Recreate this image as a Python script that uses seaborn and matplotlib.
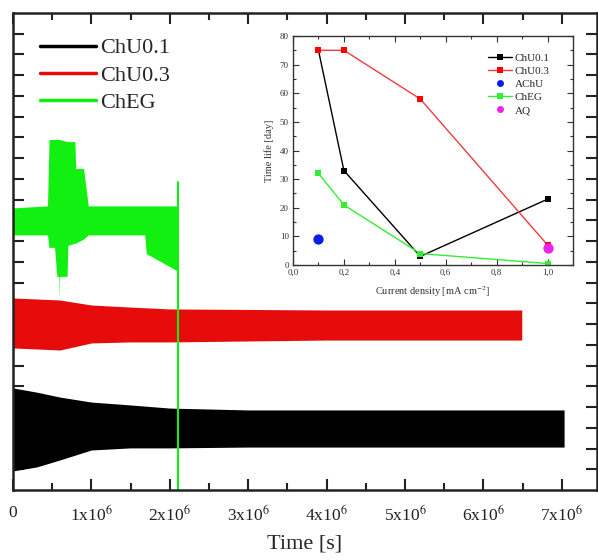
import numpy as np
import pandas as pd
import matplotlib
matplotlib.use("Agg")
import matplotlib.pyplot as plt
from matplotlib.ticker import MultipleLocator, FixedLocator, FuncFormatter
from matplotlib.lines import Line2D
import seaborn as sns

# main chart: envelopes of the oscillating signals (x in 1e6 s, y arbitrary units)
chu01_x = [0.0, 0.3, 0.6, 1.0, 1.5, 2.0, 3.0, 7.03]
chu01_top = [4.92, 4.72, 4.48, 4.24, 4.10, 3.95, 3.86, 3.86]
chu01_bot = [0.92, 1.11, 1.45, 1.93, 2.03, 2.03, 2.07, 2.07]

chu03_x = [0.0, 0.6, 1.0, 1.5, 2.0, 4.0, 6.49]
chu03_top = [9.26, 9.16, 8.92, 8.82, 8.73, 8.68, 8.68]
chu03_bot = [6.85, 6.75, 7.09, 7.14, 7.14, 7.23, 7.23]

cheg_x = [0.0, 0.44, 0.46, 0.53, 0.56, 0.585, 0.59, 0.595, 0.69, 0.70,
          0.79, 0.80, 0.90, 0.96, 1.68, 1.70, 2.08, 2.10]
cheg_top = [13.6, 13.7, 16.9, 16.9, 16.9, 16.9, 16.9, 16.9, 16.8, 16.8,
            16.8, 15.5, 15.5, 13.7, 13.7, 13.7, 13.7, 13.7]
cheg_bot = [12.3, 12.3, 11.7, 11.7, 10.3, 10.3, 9.2, 10.3, 10.3, 11.8,
            11.9, 11.9, 12.1, 12.3, 12.3, 11.4, 10.6, 10.6]
cheg_end_x = [2.10, 2.10]
cheg_end_y = [14.85, 0.0]

# inset: lifetime vs current density
density = [0.1, 0.2, 0.5, 1.0]
life_chu01 = [75, 33, 3, 23]
life_chu03 = [75, 75, 58, 7]
life_cheg = [32, 21, 4, 0.5]
achu_x, achu_y = [0.1], [9]
aq_x, aq_y = [1.0], [6]

BLACK = "#000000"
RED = "#e60c0c"
GREEN = "#12f012"
BLUE = "#0a1ee6"
MAGENTA = "#ee22ee"

sns.set_theme(style="ticks")
plt.rcParams["font.family"] = ["Liberation Serif", "DejaVu Serif"]
plt.rcParams["mathtext.fontset"] = "stix"

fig = plt.figure(figsize=(5.98, 5.60), dpi=100)
ax = fig.add_axes([13 / 598, 70 / 560, 584 / 598, 477 / 560])

ax.fill_between(chu01_x, chu01_bot, chu01_top, color=BLACK, lw=0)
ax.fill_between(chu03_x, chu03_bot, chu03_top, color=RED, lw=0)
ax.fill_between(cheg_x, cheg_bot, cheg_top, color=GREEN, lw=0)
ax.plot(cheg_end_x, cheg_end_y, color=GREEN, lw=1.5)

ax.set_xlim(0, 7.45)
ax.set_ylim(0, 23)
ax.xaxis.set_major_locator(MultipleLocator(1))
ax.xaxis.set_minor_locator(MultipleLocator(0.5))
ax.xaxis.set_major_formatter(FuncFormatter(lambda v, p: "0" if v == 0 else r"%dx10$^6$" % round(v)))
ax.yaxis.set_major_locator(FixedLocator(np.arange(1, 23, 2)))
ax.yaxis.set_minor_locator(FixedLocator(np.arange(2, 23, 2)))
ax.set_yticklabels([])
ax.tick_params(which="both", direction="in", top=True, right=True, width=1.5, colors="#222222")
ax.tick_params(which="major", length=8, labelsize=12.5, pad=11)
ax.tick_params(which="minor", length=5)
ax.tick_params(axis="y", which="minor", length=8)
for s in ax.spines.values():
    s.set_linewidth(1.8)
    s.set_color("#222222")
ax.set_xlabel("Time [s]", fontsize=16, labelpad=7)

handles = [Line2D([], [], color=c, lw=2.5) for c in (BLACK, RED, GREEN)]
ax.legend(handles, ["ChU0.1", "ChU0.3", "ChEG"], loc="upper left",
          bbox_to_anchor=(0.012, 0.99), frameon=False, fontsize=16,
          handlelength=2.5, handletextpad=0.2, labelspacing=0.3)

# inset
ax2 = fig.add_axes([293 / 598, (560 - 265) / 560, 280 / 598, 229 / 560])
sns.lineplot(x=density, y=life_chu01, ax=ax2, color=BLACK, lw=1, marker="s",
             markersize=4, markeredgewidth=0, legend=False)
sns.lineplot(x=density, y=life_chu03, ax=ax2, color="#f03c3c", lw=1, marker="s",
             markersize=4, markeredgewidth=0, markerfacecolor="red", legend=False)
sns.scatterplot(x=achu_x, y=achu_y, ax=ax2, color=BLUE, s=55, linewidth=0,
                legend=False, zorder=4)
sns.lineplot(x=density, y=life_cheg, ax=ax2, color="#33ee33", lw=1, marker="s",
             markersize=4, markeredgewidth=0, legend=False)
sns.scatterplot(x=aq_x, y=aq_y, ax=ax2, color=MAGENTA, s=55, linewidth=0,
                legend=False, zorder=4)

ax2.set_xlim(0, 1.1)
ax2.set_ylim(0, 80)
ax2.xaxis.set_major_locator(MultipleLocator(0.2))
ax2.xaxis.set_minor_locator(MultipleLocator(0.1))
ax2.yaxis.set_major_locator(MultipleLocator(10))
ax2.yaxis.set_minor_locator(MultipleLocator(5))
ax2.xaxis.set_major_formatter(FuncFormatter(lambda v, p: ("%.1f" % v).replace(".", ",")))
ax2.tick_params(which="both", direction="in", top=True, right=True, width=0.8,
                colors="#333333", labelsize=6.5, pad=3)
ax2.tick_params(which="major", length=4)
ax2.tick_params(which="minor", length=2.5)
for s in ax2.spines.values():
    s.set_linewidth(1)
    s.set_color("#333333")
ax2.set_xlabel("Current density [mA cm$^{-2}$]", fontsize=7.5, color="#333333", labelpad=5)
ax2.set_ylabel("Time life [day]", fontsize=7.5, color="#333333", labelpad=4)

inset_handles = [
    Line2D([], [], color=BLACK, lw=1, marker="s", markersize=4, markeredgewidth=0),
    Line2D([], [], color="#f03c3c", lw=1, marker="s", markersize=4, markeredgewidth=0,
           markerfacecolor="red"),
    Line2D([], [], ls="none", marker="o", color=BLUE, markersize=5, markeredgewidth=0),
    Line2D([], [], color="#33ee33", lw=1, marker="s", markersize=4, markeredgewidth=0),
    Line2D([], [], ls="none", marker="o", color=MAGENTA, markersize=5, markeredgewidth=0),
]
ax2.legend(inset_handles, ["ChU0.1", "ChU0.3", "AChU", "ChEG", "AQ"], loc="upper left",
           bbox_to_anchor=(0.66, 0.97), frameon=False, fontsize=8,
           handlelength=2.2, handletextpad=0.2, labelspacing=0.3)

fig.savefig("out.png", dpi=100)
